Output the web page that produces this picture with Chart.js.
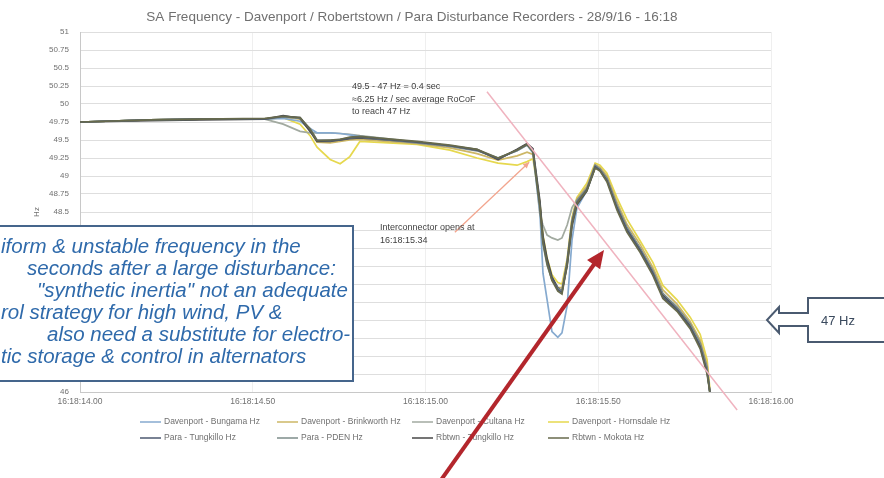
<!DOCTYPE html>
<html>
<head>
<meta charset="utf-8">
<title>SA Frequency - 28/9/16</title>
<script src="https://cdn.jsdelivr.net/npm/chart.js@4/dist/chart.umd.min.js"></script>
<style>
    html, body { margin: 0; padding: 0; background: #fff; overflow: hidden; }
    canvas { display: block; }
</style>
</head>
<body>
<canvas id="freqChart" width="884" height="478"></canvas>
<script>
// Seconds after 16:18:00
const times = [14.000, 14.203, 14.347, 14.535, 14.588, 14.637, 14.666, 14.686, 14.724, 14.753,
    14.781, 14.810, 14.975, 15.071, 15.149, 15.210, 15.265, 15.294, 15.311, 15.331,
    15.340, 15.352, 15.366, 15.383, 15.395, 15.410, 15.424, 15.438, 15.467, 15.491,
    15.505, 15.525, 15.554, 15.583, 15.621, 15.658, 15.687, 15.728, 15.766, 15.795,
    15.815, 15.823];

// Frequency (Hz) per recorder
const davenportBungama = [49.75, 49.78, 49.79, 49.79, 49.80, 49.76, 49.66, 49.60, 49.60, 49.59,
    49.57, 49.55, 49.47, 49.42, 49.36, 49.25, 49.35, 49.43, 49.32, 48.50,
    47.65, 47.28, 46.84, 46.76, 46.82, 47.20, 48.11, 48.55, 48.80, 49.12,
    49.08, 48.94, 48.57, 48.26, 47.98, 47.66, 47.33, 47.15, 46.91, 46.64,
    46.29, 46.00];
const davenportBrinkworth = [49.75, 49.78, 49.79, 49.79, 49.82, 49.79, 49.63, 49.47, 49.46, 49.48,
    49.50, 49.51, 49.45, 49.39, 49.31, 49.22, 49.28, 49.33, 49.30, 48.62,
    48.14, 47.80, 47.55, 47.45, 47.45, 47.82, 48.40, 48.68, 48.86, 49.16,
    49.12, 49.00, 48.64, 48.33, 48.05, 47.73, 47.42, 47.22, 46.98, 46.72,
    46.38, 46.00];
const davenportCultana = [49.75, 49.78, 49.79, 49.79, 49.72, 49.62, 49.60, 49.60, 49.60, 49.59,
    49.58, 49.56, 49.47, 49.42, 49.36, 49.24, 49.36, 49.44, 49.37, 48.46,
    48.32, 48.18, 48.14, 48.11, 48.14, 48.32, 48.56, 48.67, 48.82, 49.14,
    49.10, 48.96, 48.58, 48.27, 47.99, 47.67, 47.34, 47.16, 46.92, 46.65,
    46.30, 46.00];
const davenportHornsdale = [49.75, 49.78, 49.79, 49.79, 49.81, 49.72, 49.56, 49.40, 49.23, 49.17,
    49.27, 49.48, 49.44, 49.36, 49.25, 49.18, 49.15, 49.20, 49.24, 48.62,
    48.18, 47.86, 47.63, 47.52, 47.50, 47.85, 48.42, 48.70, 48.90, 49.18,
    49.15, 49.04, 48.70, 48.40, 48.10, 47.80, 47.48, 47.28, 47.04, 46.80,
    46.45, 46.05];
const paraTungkillo = [49.75, 49.78, 49.79, 49.79, 49.83, 49.81, 49.64, 49.49, 49.49, 49.50,
    49.53, 49.54, 49.47, 49.42, 49.36, 49.24, 49.36, 49.44, 49.36, 48.60,
    48.11, 47.81, 47.58, 47.42, 47.38, 47.79, 48.35, 48.63, 48.81, 49.13,
    49.08, 48.94, 48.56, 48.25, 47.97, 47.65, 47.32, 47.14, 46.90, 46.63,
    46.28, 46.00];
const paraPden = [49.75, 49.78, 49.79, 49.79, 49.82, 49.80, 49.66, 49.50, 49.49, 49.51,
    49.53, 49.54, 49.46, 49.41, 49.35, 49.25, 49.35, 49.43, 49.33, 48.55,
    48.05, 47.76, 47.56, 47.44, 47.40, 47.82, 48.38, 48.66, 48.83, 49.15,
    49.10, 48.97, 48.60, 48.29, 48.00, 47.69, 47.37, 47.18, 46.95, 46.68,
    46.34, 46.00];
const rbtwnTungkillo = [49.75, 49.77, 49.78, 49.79, 49.84, 49.80, 49.62, 49.48, 49.48, 49.50,
    49.52, 49.53, 49.47, 49.42, 49.37, 49.23, 49.37, 49.45, 49.38, 48.66,
    48.16, 47.85, 47.60, 47.45, 47.40, 47.75, 48.30, 48.60, 48.79, 49.12,
    49.09, 48.96, 48.58, 48.27, 47.99, 47.67, 47.35, 47.17, 46.93, 46.66,
    46.31, 46.00];
const rbtwnMokota = [49.75, 49.78, 49.79, 49.80, 49.83, 49.81, 49.65, 49.49, 49.50, 49.51,
    49.54, 49.55, 49.48, 49.43, 49.37, 49.25, 49.36, 49.44, 49.34, 48.58,
    48.08, 47.78, 47.55, 47.40, 47.36, 47.77, 48.33, 48.62, 48.80, 49.11,
    49.07, 48.92, 48.53, 48.22, 47.94, 47.62, 47.30, 47.12, 46.88, 46.60,
    46.25, 46.00];

const seriesLabels = ['Davenport - Bungama Hz', 'Davenport - Brinkworth Hz', 'Davenport - Cultana Hz',
    'Davenport - Hornsdale Hz', 'Para - Tungkillo Hz', 'Para - PDEN Hz', 'Rbtwn - Tungkillo Hz', 'Rbtwn - Mokota Hz'];
const seriesValues = [davenportBungama, davenportBrinkworth, davenportCultana, davenportHornsdale,
    paraTungkillo, paraPden, rbtwnTungkillo, rbtwnMokota];
const seriesColors = ['#86aacf', '#cdb766', '#a2aaa0', '#e6d84e', '#4d5870', '#7d8c8a', '#474747', '#676a4c'];
const seriesOrder = [2, 2, 2, 2, 1, 1, 1, 0];

// Axis range and ticks
const timeMin = 14.0, timeMax = 16.0, timeStep = 0.5;
const freqMin = 46, freqMax = 51, freqStep = 0.25;

// Annotation anchors (time s, frequency Hz)
const rocofTimes = [15.178, 15.902];
const rocofFreqs = [50.17, 45.75];
const interconnectorTimes = [15.085, 15.300];
const interconnectorFreqs = [48.22, 49.19];

const titleText = 'SA Frequency - Davenport / Robertstown / Para Disturbance Recorders - 28/9/16 - 16:18';
const rocofNote = ['49.5 - 47 Hz = 0.4 sec', '\u22486.25 Hz / sec average RoCoF', 'to reach 47 Hz'];
const openNote = ['Interconnector opens at', '16:18:15.34'];
const boxLines = [
    ['iform & unstable frequency in the', 1],
    ['seconds after a large disturbance:', 27],
    ['"synthetic inertia" not an adequate', 37],
    ['rol strategy for high wind, PV &', 1],
    ['also need a substitute for electro-', 47],
    ['tic storage & control in alternators', 1]
];

const FONT = '"Liberation Sans", Arial, sans-serif';

function drawArrowHead(ctx, x0, y0, x1, y1, len, half) {
    const a = Math.atan2(y1 - y0, x1 - x0);
    ctx.beginPath();
    ctx.moveTo(x1, y1);
    ctx.lineTo(x1 - len * Math.cos(a) + half * Math.sin(a), y1 - len * Math.sin(a) - half * Math.cos(a));
    ctx.lineTo(x1 - len * Math.cos(a) - half * Math.sin(a), y1 - len * Math.sin(a) + half * Math.cos(a));
    ctx.closePath();
    ctx.fill();
}

/** Title, legend and the slide call-outs drawn on top of the chart */
const overlayPlugin = {
    id: 'slideOverlays',
    afterDraw(chart) {
        const { ctx, scales: { x, y } } = chart;
        ctx.save();

        // title
        ctx.fillStyle = '#707070';
        ctx.font = '13.5px ' + FONT;
        ctx.textAlign = 'center';
        ctx.textBaseline = 'middle';
        ctx.fillText(titleText, 412, 17);

        // legend, 4 columns like Excel
        ctx.font = '8.5px ' + FONT;
        ctx.textAlign = 'left';
        const cols = [140, 277, 412, 548];
        chart.data.datasets.forEach((ds, i) => {
            const cx = cols[i % 4];
            const cy = i < 4 ? 422 : 438;
            ctx.strokeStyle = ds.borderColor;
            ctx.lineWidth = 1.5;
            ctx.beginPath();
            ctx.moveTo(cx, cy);
            ctx.lineTo(cx + 21, cy);
            ctx.stroke();
            ctx.fillStyle = '#707070';
            ctx.fillText(ds.label, cx + 24, cy);
        });

        // RoCoF guide line (not clipped, runs past the axis)
        ctx.strokeStyle = '#f0b3bf';
        ctx.lineWidth = 1.5;
        ctx.beginPath();
        ctx.moveTo(x.getPixelForValue(rocofTimes[0]), y.getPixelForValue(rocofFreqs[0]));
        ctx.lineTo(x.getPixelForValue(rocofTimes[1]), y.getPixelForValue(rocofFreqs[1]));
        ctx.stroke();

        // interconnector arrow
        const ix0 = x.getPixelForValue(interconnectorTimes[0]), iy0 = y.getPixelForValue(interconnectorFreqs[0]);
        const ix1 = x.getPixelForValue(interconnectorTimes[1]), iy1 = y.getPixelForValue(interconnectorFreqs[1]);
        ctx.strokeStyle = '#f2a58e';
        ctx.fillStyle = '#f2a58e';
        ctx.lineWidth = 1.3;
        ctx.beginPath();
        ctx.moveTo(ix0, iy0);
        ctx.lineTo(ix1, iy1);
        ctx.stroke();
        drawArrowHead(ctx, ix0, iy0, ix1, iy1, 6, 3);

        // annotation texts
        ctx.fillStyle = '#3f3f3f';
        ctx.font = '9px ' + FONT;
        rocofNote.forEach((t, i) => ctx.fillText(t, 352, 87 + i * 12.5));
        openNote.forEach((t, i) => ctx.fillText(t, 380, 228 + i * 13));

        // blue text box
        ctx.fillStyle = '#ffffff';
        ctx.fillRect(-5, 226, 358, 155);
        ctx.strokeStyle = '#45658c';
        ctx.lineWidth = 2;
        ctx.strokeRect(-5, 226, 358, 155);
        ctx.fillStyle = '#2f6aab';
        ctx.font = 'italic 20.5px ' + FONT;
        boxLines.forEach(([t, lx], i) => ctx.fillText(t, lx, 247 + i * 22));

        // 47 Hz call-out arrow
        const hy = y.getPixelForValue(47);
        ctx.fillStyle = '#ffffff';
        ctx.strokeStyle = '#4a5a70';
        ctx.lineWidth = 2;
        ctx.beginPath();
        ctx.moveTo(900, hy - 22);
        ctx.lineTo(808, hy - 22);
        ctx.lineTo(808, hy - 7);
        ctx.lineTo(779, hy - 7);
        ctx.lineTo(779, hy - 13);
        ctx.lineTo(767, hy);
        ctx.lineTo(779, hy + 13);
        ctx.lineTo(779, hy + 6);
        ctx.lineTo(808, hy + 6);
        ctx.lineTo(808, hy + 22);
        ctx.lineTo(900, hy + 22);
        ctx.closePath();
        ctx.fill();
        ctx.stroke();
        ctx.fillStyle = '#3b4a5e';
        ctx.font = '13px ' + FONT;
        ctx.fillText('47 Hz', 821, hy + 1);

        // big red arrow
        ctx.strokeStyle = '#b3262c';
        ctx.fillStyle = '#b3262c';
        ctx.lineWidth = 4;
        ctx.beginPath();
        ctx.moveTo(441, 480);
        ctx.lineTo(595, 263);
        ctx.stroke();
        drawArrowHead(ctx, 441, 480, 604, 250, 18, 8);

        ctx.restore();
    }
};

const ctx = document.getElementById('freqChart').getContext('2d');

new Chart(ctx, {
    type: 'line',
    data: {
        datasets: seriesLabels.map((label, i) => ({
            label: label,
            data: times.map((t, k) => ({ x: t, y: seriesValues[i][k] })),
            borderColor: seriesColors[i],
            backgroundColor: seriesColors[i],
            borderWidth: 1.7,
            pointRadius: 0,
            tension: 0,
            order: seriesOrder[i]
        }))
    },
    options: {
        responsive: false,
        animation: false,
        devicePixelRatio: 1,
        layout: { padding: { left: 28, right: 113, top: 32, bottom: 66 } },
        plugins: {
            legend: { display: false },
            title: { display: false },
            tooltip: { enabled: false }
        },
        scales: {
            x: {
                type: 'linear',
                min: timeMin,
                max: timeMax,
                ticks: {
                    stepSize: timeStep,
                    color: '#707070',
                    font: { size: 8.5, family: FONT },
                    padding: 5,
                    maxRotation: 0,
                    callback: v => '16:18:' + v.toFixed(2)
                },
                grid: { color: '#efefef', drawTicks: false },
                border: { color: '#c8c8c8' },
                afterFit: s => { s.height = 20; s.paddingLeft = 0; s.paddingRight = 0; }
            },
            y: {
                min: freqMin,
                max: freqMax,
                ticks: {
                    stepSize: freqStep,
                    color: '#707070',
                    font: { size: 8, family: FONT },
                    padding: 11,
                    callback: v => String(Number(v.toFixed(2)))
                },
                title: { display: true, text: 'Hz', color: '#707070', font: { size: 8, family: FONT } },
                grid: { color: '#dedede', drawTicks: false },
                border: { color: '#c8c8c8' },
                afterFit: s => { s.width = 52; s.paddingTop = 0; s.paddingBottom = 0; }
            }
        }
    },
    plugins: [overlayPlugin]
});
</script>
</body>
</html>
